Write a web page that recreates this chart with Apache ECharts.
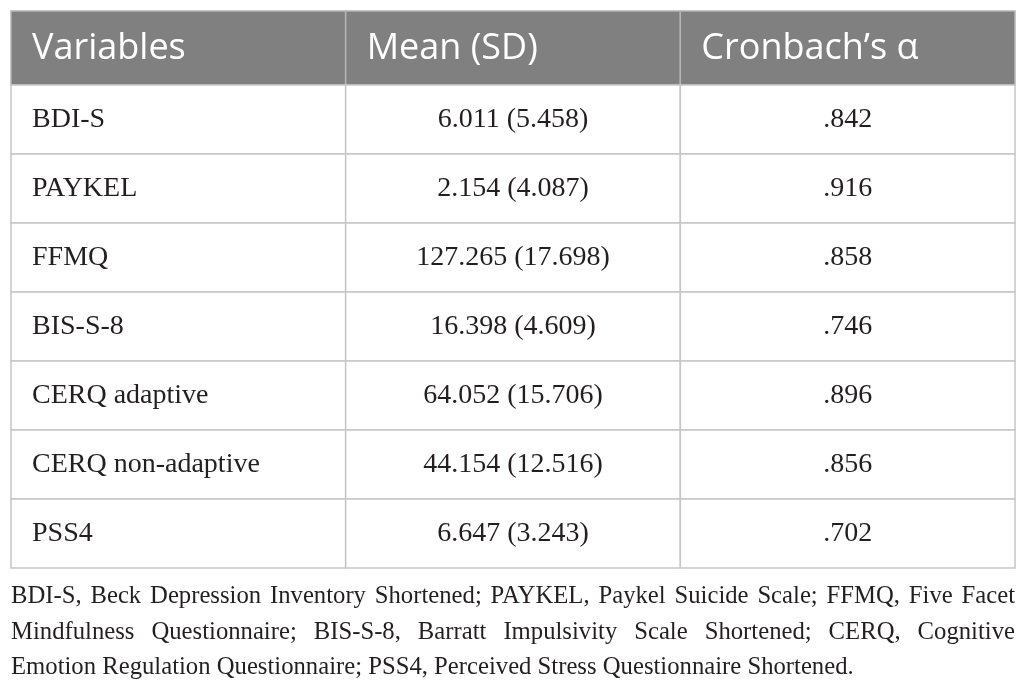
<!DOCTYPE html>
<html>
<head>
<meta charset="utf-8">
<script src="https://cdn.jsdelivr.net/npm/echarts@6/dist/echarts.min.js"></script>
<style>
  html, body { margin: 0; padding: 0; background: #ffffff; }
  #chart { width: 1026px; height: 693px; }
</style>
</head>
<body>
<div id="chart"></div>
<script>
// ---- Data ----
const headers = ['Variables', 'Mean (SD)', 'Cronbach\u2019s \u03b1'];
const variables = ['BDI-S', 'PAYKEL', 'FFMQ', 'BIS-S-8', 'CERQ adaptive', 'CERQ non-adaptive', 'PSS4'];
const means = [6.011, 2.154, 127.265, 16.398, 64.052, 44.154, 6.647];
const sds = [5.458, 4.087, 17.698, 4.609, 15.706, 12.516, 3.243];
const alphas = [0.842, 0.916, 0.858, 0.746, 0.896, 0.856, 0.702];
const footnoteLines = [
  'BDI-S, Beck Depression Inventory Shortened; PAYKEL, Paykel Suicide Scale; FFMQ, Five Facet',
  'Mindfulness Questionnaire; BIS-S-8, Barratt Impulsivity Scale Shortened; CERQ, Cognitive',
  'Emotion Regulation Questionnaire; PSS4, Perceived Stress Questionnaire Shortened.'
];

// ---- Styling ----
const headerFont = 'normal 36px "Open Sans", sans-serif';
const bodyFont = '28px "Liberation Serif", serif';
const noteFont = '24.7px "Liberation Serif", serif';
const headerBg = '#808080';
const headerLine = '#b4b4b4';
const gridLine = '#c6c6c6';
const textColor = '#231f20';
const padLeft = 21;

// ---- Build cells ----
const headerData = headers.map((h, c) => [c, 0, h]);
const bodyData = [];
variables.forEach((v, r) => {
  bodyData.push([0, r, v]);
  bodyData.push([1, r, means[r].toFixed(3) + ' (' + sds[r].toFixed(3) + ')']);
  bodyData.push([2, r, alphas[r].toFixed(3).replace(/^0/, '')]);
});

function cellRenderer(isHeader) {
  return function (params, api) {
    const col = api.value(0);
    const center = api.coord([api.value(0), api.value(1)]);
    const size = api.size([1, 1]);
    const x0 = center[0] - size[0] / 2;
    const y0 = center[1] - size[1] / 2;
    const text = api.value(2);
    const leftAlign = isHeader || col === 0;
    return {
      type: 'group',
      children: [
        {
          type: 'rect',
          shape: { x: x0, y: y0, width: size[0], height: size[1] },
          style: {
            fill: isHeader ? headerBg : '#ffffff',
            stroke: isHeader ? headerLine : gridLine,
            lineWidth: 1.5
          }
        },
        {
          type: 'text',
          style: {
            text: text,
            x: leftAlign ? x0 + padLeft : center[0],
            y: center[1] + (isHeader ? 1 : 0),
            align: leftAlign ? 'left' : 'center',
            verticalAlign: 'middle',
            textAlign: leftAlign ? 'left' : 'center',
            textVerticalAlign: 'middle',
            font: isHeader ? headerFont : bodyFont,
            fill: isHeader ? '#ffffff' : textColor
          },
          z2: 10
        }
      ]
    };
  };
}

// ---- Footnote (justified lines) ----
const measureCtx = document.createElement('canvas').getContext('2d');
measureCtx.font = noteFont;
const noteLeft = 11, noteRight = 1015;
const noteY = [597, 633, 668];
const noteElements = [];
footnoteLines.forEach((line, i) => {
  const words = line.split(' ');
  const justify = i < footnoteLines.length - 1;
  const widths = words.map(w => measureCtx.measureText(w).width);
  const total = widths.reduce((a, b) => a + b, 0);
  const gap = justify ? (noteRight - noteLeft - total) / (words.length - 1)
                      : measureCtx.measureText(' ').width;
  let x = noteLeft;
  words.forEach((w, k) => {
    noteElements.push({
      type: 'text',
      x: x,
      y: noteY[i],
      style: {
        text: w,
        font: noteFont,
        fill: textColor,
        align: 'left',
        verticalAlign: 'middle',
        textAlign: 'left',
        textVerticalAlign: 'middle'
      }
    });
    x += widths[k] + gap;
  });
});

const chart = echarts.init(document.getElementById('chart'));
chart.setOption({
  animation: false,
  backgroundColor: '#ffffff',
  grid: [
    { left: 11, right: 11, top: 11, height: 74 },
    { left: 11, right: 11, top: 85, height: 483 }
  ],
  xAxis: [
    { type: 'category', data: headers, gridIndex: 0, show: false },
    { type: 'category', data: headers, gridIndex: 1, show: false }
  ],
  yAxis: [
    { type: 'category', data: ['header'], gridIndex: 0, show: false },
    { type: 'category', data: variables, gridIndex: 1, inverse: true, show: false }
  ],
  series: [
    {
      type: 'custom',
      xAxisIndex: 0, yAxisIndex: 0,
      data: headerData,
      renderItem: cellRenderer(true),
      encode: { x: 0, y: 1 }
    },
    {
      type: 'custom',
      xAxisIndex: 1, yAxisIndex: 1,
      data: bodyData,
      renderItem: cellRenderer(false),
      encode: { x: 0, y: 1 }
    }
  ],
  graphic: noteElements
});
</script>
</body>
</html>
